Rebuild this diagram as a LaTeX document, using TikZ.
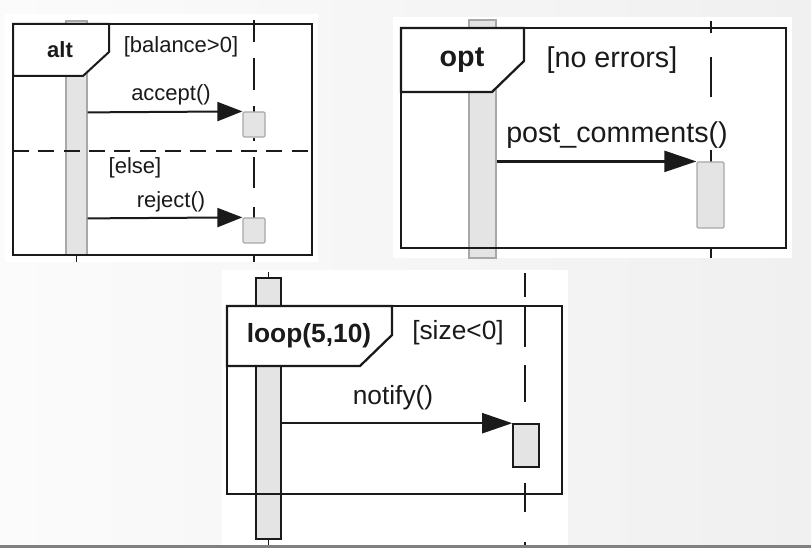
\documentclass[tikz,border=0pt]{standalone}
\usepackage{fontspec}
\setmainfont{Liberation Sans}
\usetikzlibrary{arrows.meta}
\definecolor{bgL}{HTML}{FBFBFB}
\definecolor{bgR}{HTML}{F0F0F0}
\definecolor{actfill}{HTML}{E4E4E4}
\definecolor{actdraw}{HTML}{A8A8A8}
\definecolor{ink}{HTML}{1A1A1A}
\definecolor{botbar}{HTML}{808080}
\begin{document}
\begin{tikzpicture}[x=0.75pt,y=-0.75pt,
  frame/.style={draw=ink, line width=1.5pt},
  tabshape/.style={draw=ink, fill=white, line width=1.5pt},
  lifel/.style={draw=ink, line width=1.4pt},
  actbar/.style={rectangle, draw=actdraw, fill=actfill, line width=0.9pt, inner sep=0pt},
  actbox/.style={rectangle, draw=actdraw, fill=actfill, line width=0.9pt, inner sep=0pt, rounded corners=1pt},
  darkbar/.style={rectangle, draw=ink, fill=actfill, line width=1.2pt, inner sep=0pt},
  msg/.style={draw=ink, line width=1.5pt},
  lblA/.style={inner sep=0pt, text=ink, font=\fontsize{16.5}{18}\selectfont},
  lblB/.style={inner sep=0pt, text=ink, font=\fontsize{21.5}{24}\selectfont},
  lblC/.style={inner sep=0pt, text=ink, font=\fontsize{19.75}{22}\selectfont},
]
\useasboundingbox (0,0) rectangle (811,548);
% background
\shade[left color=bgL, right color=bgR] (0,0) rectangle (811,548);
\fill[botbar] (0,545) rectangle (811,548);
% white panels
\fill[white] (5,14) rectangle (318,262);
\fill[white] (393,17) rectangle (792,258);
\fill[white] (222,270) rectangle (568,545);

%%%%%%%% Panel 1: alt
\node[actbar, minimum width=15.75pt, minimum height=175.5pt] (bar1) at (76.5,138) {};
\draw[lifel, line width=1pt] (76.5,255) -- (76.5,262);
\foreach \a/\b in {20/42,58/90,106/112,138/141,157/188,207/218,255/262}
  \draw[lifel] (254,\a) -- (254,\b);
\draw[frame] (13,24) rectangle (312,255);
\draw[tabshape] (13,24) -- (109,24) -- (109,52) -- (83,76) -- (13,76) -- cycle;
\node[lblA, font=\fontsize{16.5}{18}\selectfont\bfseries] (alt) at (60,50) {alt};
\node[lblA] (g1) at (181,47) {[balance>0]};
\draw[frame, dash pattern=on 12pt off 7pt] (13,151) -- (312,151);
\node[lblA] (g2) at (135,168) {[else]};
\node[actbox, minimum width=16.5pt, minimum height=18.75pt] (b1a) at (254,124.5) {};
\node[actbox, minimum width=16.5pt, minimum height=18.75pt] (b1b) at (254,230.5) {};
\node[lblA] (m1a) at (171,95) {accept()};
\node[lblA] (m1b) at (171,202) {reject()};
\draw[msg, -{Triangle[length=18.75pt,width=14.25pt]}] (bar1.east |- b1a.north west) ++(0,1) -- (b1a.north west);
\draw[msg, -{Triangle[length=18.75pt,width=14.25pt]}] (bar1.east |- b1b.north west) ++(0,1) -- (b1b.north west);

%%%%%%%% Panel 2: opt
\node[actbar, minimum width=20.25pt, minimum height=178.5pt] (bar2) at (482.5,139) {};
\foreach \a/\b in {21/33,57/97,150/162,247/258}
  \draw[lifel, line width=1.6pt] (711,\a) -- (711,\b);
\draw[frame, line width=1.7pt] (401,28) rectangle (786,248);
\draw[tabshape, line width=1.7pt] (401,28) -- (524,28) -- (524,61) -- (492,92) -- (401,92) -- cycle;
\node[lblB, font=\fontsize{21.5}{24}\selectfont\bfseries] (opt) at (462,60) {opt};
\node[lblB] (g3) at (612,60) {[no errors]};
\node[actbox, minimum width=20.25pt, minimum height=49.5pt] (b2) at (710.5,195) {};
\node[lblB] (m2) at (617,135) {post\_comments()};
\draw[msg, line width=1.7pt, -{Triangle[length=24pt,width=15.75pt]}] (bar2.east |- b2.north west) -- (b2.north west);

%%%%%%%% Panel 3: loop
\node[darkbar, minimum width=18.75pt, minimum height=195.75pt] (bar3) at (268.5,408.5) {};
\draw[lifel, line width=1pt] (268.5,272) -- (bar3.north);
\draw[lifel, line width=1pt] (bar3.south) -- (268.5,545);
\foreach \a/\b in {273/297,306/347,365/402,483/512,542/545}
  \draw[lifel, line width=1.6pt] (525,\a) -- (525,\b);
\draw[frame, line width=1.7pt] (227,306) rectangle (562,494);
\draw[tabshape, line width=1.7pt] (227,306) -- (392,306) -- (392,335) -- (360,366) -- (227,366) -- cycle;
\node[lblC, font=\fontsize{19.75}{22}\selectfont\bfseries] (loop) at (309,336) {loop(5,10)};
\node[lblC] (g4) at (458,333) {[size<0]};
\node[darkbar, minimum width=19.5pt, minimum height=32.25pt] (b3) at (526,445.5) {};
\node[lblC] (m3) at (393,398) {notify()};
\draw[msg, line width=1.7pt, -{Triangle[length=22.5pt,width=15pt]}] (bar3.east |- b3.north west) -- (b3.north west);
\end{tikzpicture}
\end{document}
